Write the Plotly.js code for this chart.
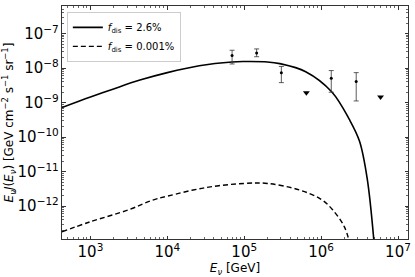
<!DOCTYPE html>
<html>
<head>
<meta charset="utf-8">
<script src="https://cdn.plot.ly/plotly-3.0.1.min.js"></script>
<style>html,body{margin:0;padding:0;background:#fff;}#chart{width:415px;height:277px;}</style>
</head>
<body>
<div id="chart"></div>
<script>
// Model curve f_dis = 2.6%
const modelHighE = [427, 1000, 2000, 4400, 1e4, 2.6e4, 6.9e4, 1e5, 2e5, 2.9e5, 6.3e5, 1.38e6, 2.34e6, 3.16e6, 3.98e6, 4.9e6];
const modelHighFlux = [7.2e-10, 1.45e-9, 2.5e-9, 4.5e-9, 7.4e-9, 1.17e-8, 1.51e-8, 1.55e-8, 1.51e-8, 1.35e-8, 7.9e-9, 2.04e-9, 3.2e-10, 7.6e-11, 6.2e-12, 8.0e-14];
// Model curve f_dis = 0.001%
const modelLowE = [427, 1000, 3160, 6300, 1e4, 3.16e4, 1e5, 2e5, 5.25e5, 1e6, 1.41e6, 2.0e6, 2.34e6];
const modelLowFlux = [1.82e-13, 3.55e-13, 7.9e-13, 1.48e-12, 1.95e-12, 3.47e-12, 4.57e-12, 4.57e-12, 2.95e-12, 1.58e-12, 7.9e-13, 2.57e-13, 8.9e-14];
// Measured points with error bars
const dataE = [6.95e4, 1.45e5, 3.04e5, 1.355e6, 2.86e6];
const dataFlux = [2.34e-8, 2.75e-8, 7.4e-9, 5.1e-9, 4.1e-9];
const dataHi = [3.3e-8, 3.6e-8, 1.12e-8, 8.5e-9, 7.4e-9];
const dataLo = [1.32e-8, 2.14e-8, 3.8e-9, 2.0e-9, 1.12e-9];
// Upper limits
const limitE = [6.43e5, 5.93e6];
const limitFlux = [1.95e-9, 1.45e-9];

const legendLabels = ['<i>f</i><sub>dis</sub> = 2.6%', '<i>f</i><sub>dis</sub> = 0.001%'];

const traces = [
  {x: modelHighE, y: modelHighFlux, mode: 'lines', name: legendLabels[0],
   line: {color: '#000', width: 1.6, shape: 'spline', smoothing: 1}},
  {x: modelLowE, y: modelLowFlux, mode: 'lines', name: legendLabels[1],
   line: {color: '#000', width: 1.4, dash: '5px,3px', shape: 'spline', smoothing: 1}},
  {x: dataE, y: dataFlux, mode: 'markers', showlegend: false,
   marker: {color: '#000', size: 3},
   error_y: {type: 'data', symmetric: false,
     array: dataHi.map((h, i) => h - dataFlux[i]),
     arrayminus: dataLo.map((l, i) => dataFlux[i] - l),
     color: '#333', thickness: 0.8, width: 2.5}},
  {x: limitE, y: limitFlux, mode: 'markers', showlegend: false,
   marker: {color: '#000', size: 6, symbol: 'triangle-down'}}
];

const tickFont = {family: 'DejaVu Sans', size: 12, color: '#000'};
const layout = {
  width: 415, height: 277,
  margin: {l: 62, r: 7, t: 6, b: 38},
  paper_bgcolor: '#fff', plot_bgcolor: '#fff',
  font: {family: 'DejaVu Sans', color: '#000'},
  showlegend: true,
  legend: {x: 0.014, y: 0.975, xanchor: 'left', yanchor: 'top',
    bgcolor: 'rgba(255,255,255,0.8)', bordercolor: '#cccccc', borderwidth: 1,
    font: {family: 'DejaVu Sans', size: 10, color: '#000'},
    tracegroupgap: 0, itemwidth: 30},
  xaxis: {type: 'log', range: [2.63, 7.13], dtick: 1, exponentformat: 'power',
    ticks: 'inside', ticklen: 3.5, tickwidth: 0.8, tickcolor: '#000',
    showline: true, linecolor: '#000', linewidth: 0.8, mirror: 'allticks',
    showgrid: false, zeroline: false, tickfont: tickFont,
    minor: {ticks: 'inside', ticklen: 2, tickwidth: 0.6, tickcolor: '#000', showgrid: false},
    title: {text: '<i>E<sub>ν</sub></i> [GeV]', font: {family: 'DejaVu Sans', size: 12, color: '#000'}, standoff: 2}},
  yaxis: {type: 'log', range: [-12.95, -6.2], dtick: 1, exponentformat: 'power',
    ticks: 'inside', ticklen: 3.5, tickwidth: 0.8, tickcolor: '#000',
    showline: true, linecolor: '#000', linewidth: 0.8, mirror: 'allticks',
    showgrid: false, zeroline: false, tickfont: tickFont,
    minor: {ticks: 'inside', ticklen: 2, tickwidth: 0.6, tickcolor: '#000', showgrid: false},
    title: {text: '<i>E<sub>ν</sub>J</i>(<i>E<sub>ν</sub></i>) [GeV cm<sup>−2</sup> s<sup>−1</sup> sr<sup>−1</sup>]', font: {family: 'DejaVu Sans', size: 12, color: '#000'}, standoff: 3}}
};

Plotly.newPlot('chart', traces, layout, {displayModeBar: false, staticPlot: true});
</script>
</body>
</html>
